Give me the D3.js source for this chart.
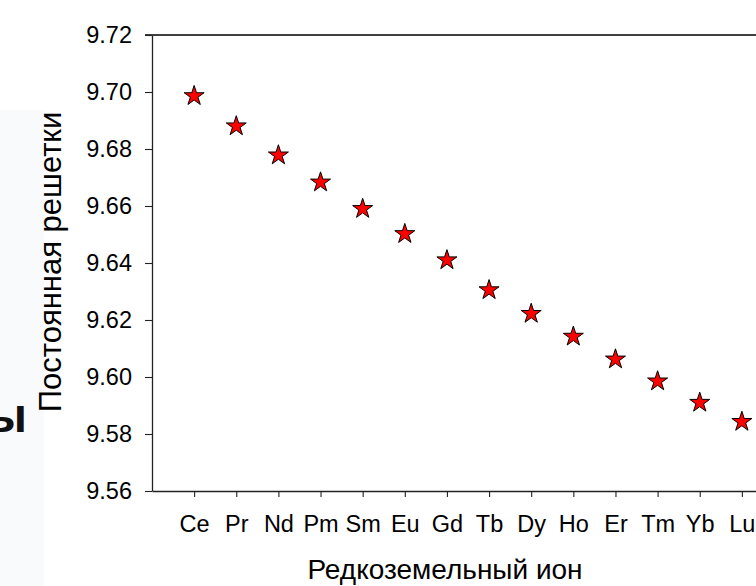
<!DOCTYPE html>
<html>
<head>
<meta charset="utf-8">
<script src="https://cdn.jsdelivr.net/npm/d3@7"></script>
<style>
  body { margin: 0; background: #ffffff; }
  svg { display: block; font-family: "Liberation Sans", Arial, sans-serif; }
</style>
</head>
<body>
<div id="latticeChart"></div>
<script>
// rare-earth ions along x, lattice constant on y
var ions = ["Ce", "Pr", "Nd", "Pm", "Sm", "Eu", "Gd", "Tb", "Dy", "Ho", "Er", "Tm", "Yb", "Lu"];
var latticeConst = [9.6986, 9.6880, 9.6778, 9.6683, 9.6590, 9.6502, 9.6410, 9.6305, 9.6222, 9.6142, 9.6062, 9.5985, 9.5910, 9.5843];
var yTickValues = [9.56, 9.58, 9.60, 9.62, 9.64, 9.66, 9.68, 9.70, 9.72];
var xTitle = "Редкоземельный ион";
var yTitle = "Постоянная решетки";

(function () {
  'use strict';

  var width = 756, height = 586;
  var left = 152, top = 35, bottom = 491, right = 784; // right frame falls outside the crop

  var svg = d3.select("#latticeChart")
    .append("svg")
    .attr("width", width)
    .attr("height", height);

  // faint slide background peeking in at the left
  svg.append("rect")
    .attr("x", 0).attr("y", 110)
    .attr("width", 44).attr("height", height - 110)
    .attr("fill", "#f9fafc");

  // bit of the slide heading that got cut
  svg.append("text")
    .attr("x", 27)
    .attr("y", 432)
    .attr("text-anchor", "end")
    .style("font-size", "48px")
    .style("font-weight", "bold")
    .attr("fill", "#111")
    .text("ы");

  var x = d3.scalePoint()
    .domain(ions)
    .range([left, right])
    .padding(1);

  var y = d3.scaleLinear()
    .domain([9.56, 9.72])
    .range([bottom, top]);

  // top frame line
  svg.append("line")
    .attr("x1", left - 7).attr("x2", right)
    .attr("y1", top).attr("y2", top)
    .attr("stroke", "#000")
    .attr("stroke-width", 1.5);

  var yAxis = svg.append("g")
    .attr("transform", "translate(" + left + ",0)")
    .call(d3.axisLeft(y).tickValues(yTickValues).tickFormat(d3.format(".2f")).tickSizeInner(7).tickSizeOuter(0).tickPadding(13));

  var xAxis = svg.append("g")
    .attr("transform", "translate(0," + bottom + ")")
    .call(d3.axisBottom(x).tickSizeInner(6).tickSizeOuter(0).tickPadding(18));

  [yAxis, xAxis].forEach(function (g) {
    g.select(".domain").attr("stroke", "#222").attr("stroke-width", 1.3);
    g.selectAll(".tick line").attr("stroke", "#222").attr("stroke-width", 1.1);
    g.selectAll(".tick text")
      .attr("fill", "#000")
      .style("font-family", "'Liberation Sans', Arial, sans-serif")
      .style("font-size", "23.5px");
  });

  svg.append("text")
    .attr("transform", "translate(61," + 262 + ") rotate(-90)")
    .attr("text-anchor", "middle")
    .style("font-size", "31px")
    .attr("fill", "#000")
    .text(yTitle);

  svg.append("text")
    .attr("x", 445)
    .attr("y", 579)
    .attr("text-anchor", "middle")
    .style("font-size", "28px")
    .attr("fill", "#000")
    .text(xTitle);

  var star = d3.symbol().type(d3.symbolStar).size(124);

  svg.append("g")
    .selectAll("path")
    .data(latticeConst)
    .enter().append("path")
    .attr("transform", function (d, i) {
      return "translate(" + x(ions[i]) + "," + y(d) + ")";
    })
    .attr("d", star)
    .attr("fill", "#ff0000")
    .attr("stroke", "#000")
    .attr("stroke-width", 1);
})();
</script>
</body>
</html>
